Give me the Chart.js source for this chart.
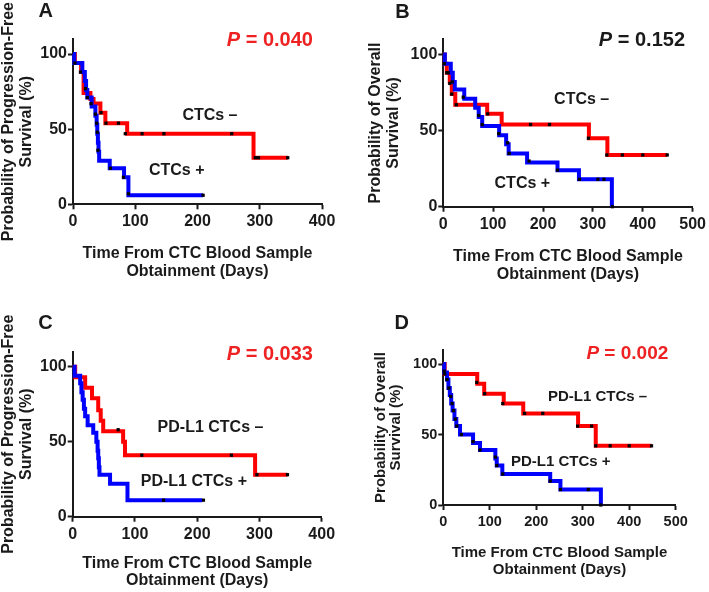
<!DOCTYPE html>
<html lang="en">
<head>
  <meta charset="UTF-8" />
  <title>CTC Kaplan-Meier curves</title>
  <script src="https://cdn.jsdelivr.net/npm/chart.js"></script>
  <style>
    body { margin: 0; background: #fff; }
    #wrap { position: relative; width: 709px; height: 592px; overflow: hidden; }
    .panel { position: absolute; }
  </style>
</head>
<body>
  <div id="wrap">
    <div class="panel" style="left:0;top:0"><canvas id="cA" width="355" height="296"></canvas></div>
    <div class="panel" style="left:355px;top:0"><canvas id="cB" width="354" height="296"></canvas></div>
    <div class="panel" style="left:0;top:296px"><canvas id="cC" width="355" height="296"></canvas></div>
    <div class="panel" style="left:355px;top:296px"><canvas id="cD" width="354" height="296"></canvas></div>
  </div>

  <script>
    // ticks
    const yTicks = [0, 50, 100];
    const xTicks400 = [0, 100, 200, 300, 400];
    const xTicks500 = [0, 100, 200, 300, 400, 500];

    // A: PFS, CTCs - / CTCs +   ([day, %] = survival drops to % at day)
    const aNeg = [[0,100],[3,94],[13,88],[17,74],[28,70],[33,67],[44,61],[52,54],[87,47],[290,31],[345,31]];
    const aPos = [[0,100],[2,94],[15,88],[19,82],[21,76],[23,71],[30,65],[36,59],[38,53],[39,47],[40,41],[41,35],[42,29],[59,24],[82,18],[89,6],[209,6]];
    const aNegMarks = [[12,88],[29,67],[45,61],[53,54],[73,54],[84,47],[111,47],[146,47],[255,47],[293,31],[298,31],[345,31]];
    const aPosMarks = [[3,94],[20,77],[23,71],[36,60],[38,54],[39,48],[40,36],[60,24],[81,18],[89,7],[209,6]];

    // B: OS, CTCs - / CTCs +
    const bNeg = [[0,100],[3,94],[7,88],[13,82],[17,74],[24,67],[88,61],[117,54],[292,45],[329,34],[449,34]];
    const bPos = [[0,100],[3,94],[15,88],[19,82],[23,77],[42,71],[64,65],[71,59],[78,53],[112,47],[126,41],[131,35],[168,29],[229,24],[272,18],[338,0]];
    const bNegMarks = [[2,94],[7,88],[13,81],[17,74],[26,67],[89,61],[175,54],[213,54],[291,45],[328,34],[359,34],[400,34],[449,34]];
    const bPosMarks = [[10,88],[18,82],[40,72],[71,60],[78,54],[111,48],[129,42],[132,35],[172,30],[229,24],[273,18],[310,18],[322,18],[339,0]];

    // C: PFS, PD-L1 CTCs - / +
    const cNeg = [[0,100],[4,93],[20,86],[31,79],[41,71],[45,64],[49,57],[81,50],[84,41],[293,28],[345,28]];
    const cPos = [[0,100],[3,94],[12,89],[14,83],[16,78],[18,72],[20,67],[24,61],[33,56],[38,50],[40,44],[41,39],[42,33],[43,28],[60,22],[88,11],[208,11]];
    const cNegMarks = [[73,58],[111,41],[255,41],[296,28],[345,28]];
    const cPosMarks = [[146,11],[210,11]];

    // D: OS, PD-L1 CTCs - / +
    const dNeg = [[0,100],[3,93],[73,86],[88,79],[130,72],[172,65],[290,56],[328,42],[448,42]];
    const dPos = [[0,100],[2,94],[8,89],[11,83],[14,78],[17,72],[20,67],[24,61],[28,56],[36,50],[64,44],[79,39],[112,33],[115,28],[127,22],[230,17],[252,11],[339,0]];
    const dNegMarks = [[3,93],[72,87],[89,79],[128,72],[175,65],[214,65],[289,56],[319,56],[328,42],[359,42],[400,42],[448,42]];
    const dPosMarks = [[2,95],[8,89],[12,83],[16,77],[19,72],[22,67],[26,61],[29,56],[39,50],[64,45],[79,39],[112,34],[115,28],[128,22],[230,17],[252,11],[312,11],[339,0]];

    const FONT = "'Liberation Sans', Arial, Helvetica, sans-serif";
    const INK = '#1a1a1a';
    const RED = '#ff0000';
    const BLUE = '#0000ff';
    const RED_TXT = '#ee2222';

    const toPts = arr => arr.map(p => ({ x: p[0], y: p[1] }));

    // text on the panels (letter, P value, curve names) placed in data units
    const labelPlugin = {
      id: 'panelLabels',
      afterDraw(chart, args, opts) {
        const ctx = chart.ctx;
        const xs = chart.scales.x, ys = chart.scales.y;
        ctx.save();
        ctx.textBaseline = 'middle';
        (opts.items || []).forEach(it => {
          const px = xs.getPixelForValue(it.x);
          const py = ys.getPixelForValue(it.y);
          ctx.fillStyle = it.color || INK;
          if (it.pValue) {
            const pFont = `italic bold ${it.size}px ${FONT}`;
            const rFont = `bold ${it.size}px ${FONT}`;
            const rest = ' = ' + it.pValue;
            ctx.font = pFont;
            const w1 = ctx.measureText('P').width;
            ctx.font = rFont;
            const w2 = ctx.measureText(rest).width;
            const x0 = px - w1 - w2;
            ctx.textAlign = 'left';
            ctx.font = pFont;
            ctx.fillText('P', x0, py);
            ctx.font = rFont;
            ctx.fillText(rest, x0 + w1, py);
          } else {
            ctx.font = `bold ${it.size}px ${FONT}`;
            ctx.textAlign = 'center';
            ctx.fillText(it.text, px, py);
          }
        });
        ctx.restore();
      }
    };

    function stepSet(arr, color, order) {
      return {
        data: toPts(arr), showLine: true, stepped: 'before',
        borderColor: color, borderWidth: 4, borderJoinStyle: 'miter', borderCapStyle: 'butt',
        pointRadius: 0, fill: false, order: order, clip: false
      };
    }

    function markSet(arr) {
      return {
        data: toPts(arr), showLine: false, pointStyle: 'rect', pointRadius: 2.3,
        backgroundColor: '#000', borderWidth: 0, order: 0, clip: false
      };
    }

    function makePanel(id, p) {
      new Chart(document.getElementById(id), {
        type: 'scatter',
        data: {
          datasets: [
            markSet(p.negMarks),
            markSet(p.posMarks),
            stepSet(p.pos, BLUE, 1),
            stepSet(p.neg, RED, 2)
          ]
        },
        options: {
          responsive: false,
          animation: false,
          events: [],
          layout: { padding: { left: 0, top: p.top, right: p.right, bottom: 0 } },
          plugins: {
            legend: { display: false },
            tooltip: { enabled: false },
            panelLabels: { items: p.labels }
          },
          scales: {
            x: {
              type: 'linear', min: 0, max: p.xTicks[p.xTicks.length - 1],
              afterBuildTicks: s => { s.ticks = p.xTicks.map(v => ({ value: v })); },
              afterFit: s => { s.height = p.xHeight; },
              grid: { drawOnChartArea: false, drawTicks: true, tickLength: 5, tickWidth: 2, tickColor: INK },
              border: { display: true, color: INK, width: 2 },
              ticks: { color: INK, padding: 3, maxRotation: 0, font: { family: FONT, size: p.tick, weight: 'bold' } },
              title: {
                display: true, text: ['Time From CTC Blood Sample', 'Obtainment (Days)'], color: INK,
                font: { family: FONT, size: p.title, weight: 'bold', lineHeight: 1.1 },
                padding: { top: 0, bottom: p.xTitlePad }
              }
            },
            y: {
              type: 'linear', min: 0, max: 110,
              afterBuildTicks: s => { s.ticks = yTicks.map(v => ({ value: v })); },
              afterFit: s => { s.width = p.yWidth; },
              grid: { drawOnChartArea: false, drawTicks: true, tickLength: 5, tickWidth: 2, tickColor: INK },
              border: { display: true, color: INK, width: 2 },
              ticks: { color: INK, padding: 1, font: { family: FONT, size: p.tick, weight: 'bold' } },
              title: {
                display: true, text: p.yTitle, color: INK,
                font: { family: FONT, size: p.title, weight: 'bold', lineHeight: p.yLine || 1.1 },
                padding: { top: p.yTitlePad, bottom: 0 }
              }
            }
          }
        },
        plugins: [labelPlugin]
      });
    }

    makePanel('cA', {
      neg: aNeg, pos: aPos, negMarks: aNegMarks, posMarks: aPosMarks, xTicks: xTicks400,
      top: 39, right: 33, yWidth: 73, xHeight: 91.7, xTitlePad: 15.6, yTitlePad: 0, tick: 16, title: 16,
      yTitle: ['Probability of Progression-Free', 'Survival (%)'],
      labels: [
        { text: 'A', x: -44, y: 128, size: 20 },
        { pValue: '0.040', x: 385.5, y: 109.2, size: 20, color: RED_TXT },
        { text: 'CTCs \u2013', x: 220, y: 59, size: 16 },
        { text: 'CTCs +', x: 166.6, y: 22.3, size: 16 }
      ]
    });

    makePanel('cB', {
      neg: bNeg, pos: bPos, negMarks: bNegMarks, posMarks: bPosMarks, xTicks: xTicks500,
      top: 39.3, right: 13.3, yWidth: 88.3, xHeight: 89.3, xTitlePad: 12.6, yTitlePad: 11.7, tick: 16, title: 16,
      yTitle: ['Probability of Overall', 'Survival (%)'],
      labels: [
        { text: 'B', x: -82, y: 127.4, size: 20 },
        { pValue: '0.152', x: 484.7, y: 109, size: 20, color: INK },
        { text: 'CTCs \u2013', x: 277.4, y: 70.3, size: 16 },
        { text: 'CTCs +', x: 158.5, y: 15.3, size: 16 }
      ]
    });

    makePanel('cC', {
      neg: cNeg, pos: cPos, negMarks: cNegMarks, posMarks: cPosMarks, xTicks: xTicks400,
      top: 55.7, right: 33.3, yWidth: 72.7, xHeight: 75.3, xTitlePad: 2.3, yTitlePad: 0, tick: 16, title: 16,
      yTitle: ['Probability of Progression-Free', 'Survival (%)'],
      labels: [
        { text: 'C', x: -43.7, y: 128.9, size: 20 },
        { pValue: '0.033', x: 386, y: 108.3, size: 20, color: RED_TXT },
        { text: 'PD-L1 CTCs \u2013', x: 221.4, y: 59.5, size: 16 },
        { text: 'PD-L1 CTCs +', x: 194.7, y: 23.6, size: 16 }
      ]
    });

    makePanel('cD', {
      neg: dNeg, pos: dPos, negMarks: dNegMarks, posMarks: dPosMarks, xTicks: xTicks500,
      top: 54, right: 33.3, yWidth: 88.3, xHeight: 87, xTitlePad: 14, yTitlePad: 18.4, tick: 14.5, title: 15,
      yLine: 1.0,
      yTitle: ['Probability of Overall', 'Survival (%)'],
      labels: [
        { text: 'D', x: -89.5, y: 129.1, size: 20 },
        { pValue: '0.002', x: 484, y: 107, size: 19, color: RED_TXT },
        { text: 'PD-L1 CTCs \u2013', x: 331.8, y: 76.8, size: 15 },
        { text: 'PD-L1 CTCs +', x: 252.8, y: 30.6, size: 15 }
      ]
    });
  </script>
</body>
</html>
